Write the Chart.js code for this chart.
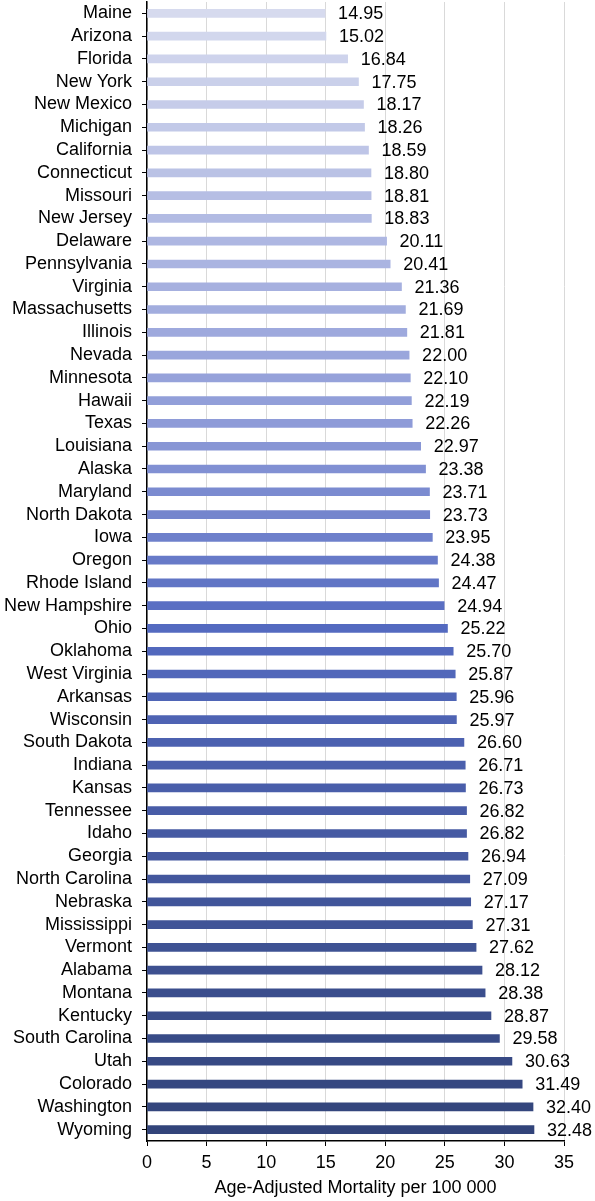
<!DOCTYPE html>
<html>
<head>
<meta charset="utf-8">
<script src="https://cdn.jsdelivr.net/npm/chart.js@4.4.1/dist/chart.umd.min.js"></script>
<style>
  html, body { margin: 0; padding: 0; background: #fff; }
  canvas { display: block; }
</style>
</head>
<body>
<canvas id="barChart" width="595" height="1201"></canvas>
<script>
const states = [
  "Maine", "Arizona", "Florida", "New York", "New Mexico", "Michigan", "California",
  "Connecticut", "Missouri", "New Jersey", "Delaware", "Pennsylvania", "Virginia",
  "Massachusetts", "Illinois", "Nevada", "Minnesota", "Hawaii", "Texas", "Louisiana",
  "Alaska", "Maryland", "North Dakota", "Iowa", "Oregon", "Rhode Island",
  "New Hampshire", "Ohio", "Oklahoma", "West Virginia", "Arkansas", "Wisconsin",
  "South Dakota", "Indiana", "Kansas", "Tennessee", "Idaho", "Georgia",
  "North Carolina", "Nebraska", "Mississippi", "Vermont", "Alabama", "Montana",
  "Kentucky", "South Carolina", "Utah", "Colorado", "Washington", "Wyoming"
];

const mortality = [
  14.95, 15.02, 16.84, 17.75, 18.17, 18.26, 18.59,
  18.80, 18.81, 18.83, 20.11, 20.41, 21.36,
  21.69, 21.81, 22.00, 22.10, 22.19, 22.26, 22.97,
  23.38, 23.71, 23.73, 23.95, 24.38, 24.47,
  24.94, 25.22, 25.70, 25.87, 25.96, 25.97,
  26.60, 26.71, 26.73, 26.82, 26.82, 26.94,
  27.09, 27.17, 27.31, 27.62, 28.12, 28.38,
  28.87, 29.58, 30.63, 31.49, 32.40, 32.48
];

const xTicks = [0, 5, 10, 15, 20, 25, 30, 35];
const axisTitle = "Age-Adjusted Mortality per 100 000";

const FONT = "'Liberation Sans', Arial, sans-serif";

// light lavender at the top fading into dark navy at the bottom
const colorStops = [
  [0, [214, 218, 238]],
  [18, [142, 155, 216]],
  [27, [84, 106, 192]],
  [49, [50, 68, 122]]
];
function barColor(i) {
  for (let s = 0; s < colorStops.length - 1; s++) {
    const [i0, c0] = colorStops[s];
    const [i1, c1] = colorStops[s + 1];
    if (i >= i0 && i <= i1) {
      const t = (i - i0) / (i1 - i0);
      const c = c0.map((v, k) => Math.round(v + (c1[k] - v) * t));
      return `rgb(${c[0]},${c[1]},${c[2]})`;
    }
  }
  return "rgb(50,68,122)";
}

// value labels at the end of each bar
const valueLabels = {
  id: "valueLabels",
  afterDatasetsDraw(chart) {
    const ctx = chart.ctx;
    const meta = chart.getDatasetMeta(0);
    ctx.save();
    ctx.font = "18px " + FONT;
    ctx.fillStyle = "#000";
    ctx.textAlign = "left";
    ctx.textBaseline = "middle";
    meta.data.forEach((bar, i) => {
      ctx.fillText(mortality[i].toFixed(2), bar.x + 13, bar.y + 1);
    });
    ctx.restore();
  }
};

const data = {
  labels: states,
  datasets: [
    {
      data: mortality,
      backgroundColor: states.map((_, i) => barColor(i)),
      borderWidth: 0,
      barThickness: 8
    }
  ]
};

const myChart = new Chart(document.getElementById("barChart").getContext("2d"), {
  type: "bar",
  data,
  plugins: [valueLabels],
  options: {
    indexAxis: "y",
    responsive: false,
    devicePixelRatio: 1,
    animation: false,
    layout: {
      padding: { top: 2, right: 31, bottom: 0, left: 0 }
    },
    plugins: {
      legend: { display: false },
      tooltip: { enabled: false }
    },
    scales: {
      x: {
        min: 0,
        max: 35,
        afterBuildTicks(scale) {
          scale.ticks = xTicks.map(v => ({ value: v }));
        },
        afterFit(scale) {
          scale.height = 60;
          scale.paddingLeft = 0;
          scale.paddingRight = 0;
        },
        ticks: {
          color: "#000",
          font: { family: FONT, size: 18 },
          padding: 6,
          maxRotation: 0
        },
        grid: {
          color: "#d9d9d9",
          lineWidth: 1,
          tickColor: "#000",
          tickLength: 5
        },
        border: { color: "#000", width: 1.5 },
        title: {
          display: true,
          text: axisTitle,
          color: "#000",
          font: { family: FONT, size: 18 },
          padding: { top: 2, bottom: 2 }
        }
      },
      y: {
        afterFit(scale) {
          scale.width = 147;
          scale.paddingTop = 0;
          scale.paddingBottom = 0;
        },
        ticks: {
          color: "#000",
          font: { family: FONT, size: 18 },
          padding: 10,
          autoSkip: false
        },
        grid: {
          offset: false,
          drawOnChartArea: false,
          tickColor: "#000",
          tickLength: 5
        },
        border: { color: "#000", width: 1.5 }
      }
    }
  }
});

myChart.update();
</script>
</body>
</html>
